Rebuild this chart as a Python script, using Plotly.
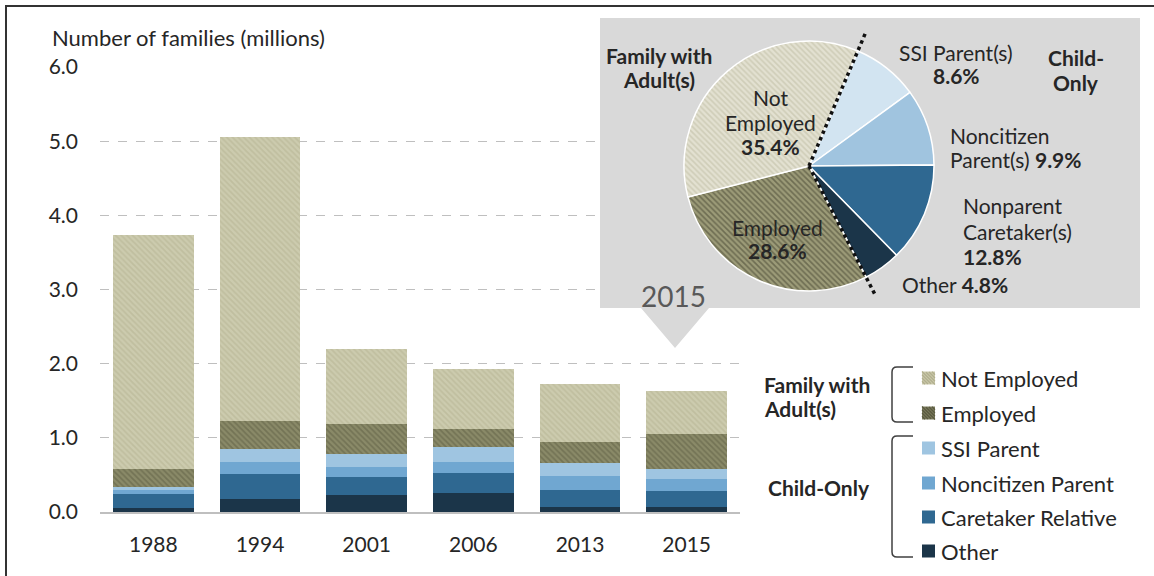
import math
import plotly.graph_objects as go

W, H = 1154, 576

# ---------------- data ----------------
years = ["1988", "1994", "2001", "2006", "2013", "2015"]
other = [0.05, 0.18, 0.23, 0.26, 0.07, 0.07]
caretaker = [0.19, 0.33, 0.24, 0.26, 0.23, 0.21]
noncitizen = [0.05, 0.17, 0.14, 0.15, 0.19, 0.16]
ssi = [0.05, 0.17, 0.17, 0.20, 0.17, 0.14]
employed = [0.24, 0.38, 0.41, 0.25, 0.29, 0.47]
not_employed = [3.15, 3.82, 1.01, 0.81, 0.78, 0.58]

y_ticks = [0, 1, 2, 3, 4, 5, 6]

pie_labels = ["SSI Parent(s)", "Noncitizen Parent(s)", "Nonparent Caretaker(s)",
              "Other", "Employed", "Not Employed"]
pie_values = [8.6, 9.9, 12.8, 4.8, 28.6, 35.4]
pie_child_only = [True, True, True, True, False, False]

legend_labels = ["Not Employed", "Employed", "SSI Parent", "Noncitizen Parent",
                 "Caretaker Relative", "Other"]

FONT = "Lato"
TXT = "#262626"
FS = 21

# ---------------- helpers (pixel -> paper) ----------------
def px(x):
    return x / W

def py(y):
    return 1 - y / H

X0, X1 = 100, 740
Y_TOP, Y_BOT = 67, 512

fig = go.Figure()

# gray callout box behind the pie, on an invisible full-page overlay subplot (pixel units)
box_x = [600, 1140, 1140, 709, 675, 641, 600, 600]
box_y = [18, 18, 308, 308, 348, 308, 308, 18]
fig.add_trace(go.Scatter(x=box_x, y=box_y, mode="lines", fill="toself", fillcolor="#d9d9d9",
                         line=dict(width=0, color="#d9d9d9"), hoverinfo="skip",
                         showlegend=False, xaxis="x2", yaxis="y2"))

series = [
    ("Other", other, dict(color="#1b3549")),
    ("Caretaker Relative", caretaker, dict(color="#2f6891")),
    ("Noncitizen Parent", noncitizen, dict(color="#70a7d1")),
    ("SSI Parent", ssi, dict(color="#9fc5e1")),
    ("Employed", employed, dict(color="#808060",
                                pattern=dict(shape="\\", bgcolor="#8a8a68", fgcolor="#5c5c42",
                                             size=4, solidity=0.45))),
    ("Not Employed", not_employed, dict(color="#c8c6a8",
                                        pattern=dict(shape="\\", bgcolor="#cccbae", fgcolor="#b3b190",
                                                     size=4, solidity=0.45))),
]
for name, vals, mk in series:
    fig.add_trace(go.Bar(x=years, y=vals, name=name, marker=dict(line=dict(width=0), **mk),
                         showlegend=False, xaxis="x", yaxis="y"))

# pie (2015)
pie_colors = ["#d2e4f1", "#a0c4df", "#2f6891", "#1b3549", "#9c9b78", "#e3e1d1"]
pie_fg = ["#d2e4f1", "#a0c4df", "#2f6891", "#1b3549", "#6e6d52", "#cfcdb8"]
pie_shapes = ["", "", "", "", "\\", "\\"]
PC_X, PC_Y, PR = 809, 166, 125
ROT = 23
fig.add_trace(go.Pie(
    labels=pie_labels, values=pie_values, sort=False, direction="clockwise",
    rotation=ROT, textinfo="none", hoverinfo="label+percent", showlegend=False,
    marker=dict(colors=pie_colors, line=dict(color="white", width=1.5),
                pattern=dict(shape=pie_shapes, fgcolor=pie_fg, bgcolor=pie_colors,
                             size=4, solidity=0.4)),
    domain=dict(x=[px(PC_X - PR), px(PC_X + PR)], y=[py(PC_Y + PR), py(PC_Y - PR)]),
))

shapes = []
# dotted divider along child-only boundaries
child_share = sum(v for v, c in zip(pie_values, pie_child_only) if c) / sum(pie_values)
a_start = math.radians(ROT)
a_end = math.radians(ROT + 360 * child_share)
ext = 1.16 * PR
for a in (a_start, a_end):
    shapes.append(dict(type="line", xref="paper", yref="paper", layer="above",
                       x0=px(PC_X), y0=py(PC_Y),
                       x1=px(PC_X + ext * math.sin(a)), y1=py(PC_Y - ext * math.cos(a)),
                       line=dict(color="#111111", width=3.5, dash="dot")))

# frame lines (top and left)
shapes.append(dict(type="line", xref="paper", yref="paper", x0=px(5), x1=1, y0=py(6), y1=py(6),
                   line=dict(color="#333333", width=2)))
shapes.append(dict(type="line", xref="paper", yref="paper", x0=px(6), x1=px(6), y0=py(6), y1=0,
                   line=dict(color="#333333", width=2)))

# legend
leg_colors = ["#cac8aa", "#7a7a5c", "#9fc5e1", "#70a7d1", "#2f6891", "#1b3549"]
leg_hatch = ["#b1af8e", "#5a5a40", None, None, None, None]
leg_y = [378, 413, 448, 483, 517, 551]
SQ = 13
LX = 922
for lab, col, hc, yy in zip(legend_labels, leg_colors, leg_hatch, leg_y):
    top = yy - SQ / 2
    shapes.append(dict(type="rect", xref="paper", yref="paper",
                       x0=px(LX), x1=px(LX + SQ), y0=py(top + SQ), y1=py(top),
                       fillcolor=col, line=dict(width=0)))
    if hc:
        segs = []
        for c in [-9.75, -6.5, -3.25, 0, 3.25, 6.5, 9.75]:
            # line: (x - LX) - (y - top) = c, clipped to the square
            pts = []
            for t in range(0, SQ + 1):
                u, v = t, t - c
                if 0 <= v <= SQ:
                    pts.append((u, v))
            if len(pts) >= 2:
                (u0, v0), (u1, v1) = pts[0], pts[-1]
                segs.append(f"M{px(LX + u0)},{py(top + v0)} L{px(LX + u1)},{py(top + v1)}")
        shapes.append(dict(type="path", xref="paper", yref="paper", path=" ".join(segs),
                           line=dict(color=hc, width=1.2)))

def bracket(ytop, ybot, xl=892, xr=913, r=5):
    return (f"M{px(xr)},{py(ytop)} L{px(xl + r)},{py(ytop)} "
            f"Q{px(xl)},{py(ytop)} {px(xl)},{py(ytop + r)} "
            f"L{px(xl)},{py(ybot - r)} Q{px(xl)},{py(ybot)} {px(xl + r)},{py(ybot)} "
            f"L{px(xr)},{py(ybot)}")

for yt, yb in [(367, 422), (436, 557)]:
    shapes.append(dict(type="path", xref="paper", yref="paper", path=bracket(yt, yb),
                       line=dict(color="#404040", width=1.5)))

ann = []

def text(x, y, t, size=FS, bold=False, anchor="center", color=TXT):
    if bold:
        t = f"<b>{t}</b>"
    ann.append(dict(x=px(x), y=py(y), xref="paper", yref="paper", text=t, showarrow=False,
                    xanchor=anchor, yanchor="middle", align=anchor if anchor != "center" else "center",
                    font=dict(family=FONT, size=size, color=color)))

text(50, 38, "Number of families (millions)", size=22, anchor="left")

for lab, yy in zip(legend_labels, leg_y):
    text(939, yy, lab, size=22, anchor="left")
text(762, 384, "Family with", bold=True, anchor="left")
text(762, 408, "Adult(s)", bold=True, anchor="left")
text(766, 487, "Child-Only", bold=True, anchor="left")

# pie labels
text(659, 55, "Family with", bold=True)
text(659, 79, "Adult(s)", bold=True)
text(1076, 58, "Child-", bold=True)
text(1076, 82, "Only", bold=True)
text(956, 52, pie_labels[0])
text(956, 76, f"{pie_values[0]}%", bold=True)
text(948, 135, "Noncitizen", anchor="left")
text(948, 159, f"Parent(s) <b>{pie_values[1]}%</b>", anchor="left")
text(961, 206, "Nonparent", anchor="left")
text(961, 231, "Caretaker(s)", anchor="left")
text(961, 256, f"{pie_values[2]}%", bold=True, anchor="left")
text(900, 284, f"{pie_labels[3]} <b>{pie_values[3]}%</b>", anchor="left")
text(770, 97, "Not")
text(770, 122, "Employed")
text(770, 147, f"{pie_values[5]}%", bold=True)
text(777, 227, pie_labels[4])
text(777, 251, f"{pie_values[4]}%", bold=True)
text(673, 296, years[-1], size=28, color="#595959")

fig.update_layout(
    width=W, height=H, margin=dict(l=0, r=0, t=0, b=0, pad=0, autoexpand=False),
    paper_bgcolor="white", plot_bgcolor="rgba(0,0,0,0)",
    barmode="stack", bargap=0.245,
    font=dict(family=FONT, size=FS, color=TXT),
    xaxis=dict(domain=[px(X0), px(X1)], showline=True, linecolor="#bfbfbf", linewidth=1.5,
               showgrid=False, ticks="", tickfont=dict(size=21, color=TXT),
               ticklabelstandoff=13, fixedrange=True, automargin=False),
    yaxis=dict(domain=[py(Y_BOT), py(Y_TOP)], range=[0, 6], tickvals=y_ticks, tickformat=".1f",
               showgrid=True, gridcolor="#bfbfbf", griddash="dash", gridwidth=1,
               zeroline=False, showline=False, ticks="", tickfont=dict(size=21, color=TXT),
               ticklabelstandoff=21, fixedrange=True, automargin=False),
    xaxis2=dict(domain=[0, 1], range=[0, W], visible=False, fixedrange=True, anchor="y2",
                automargin=False),
    yaxis2=dict(domain=[0, 1], range=[H, 0], visible=False, fixedrange=True, anchor="x2",
                automargin=False),
    shapes=shapes, annotations=ann,
)

fig.write_html("out.html")
